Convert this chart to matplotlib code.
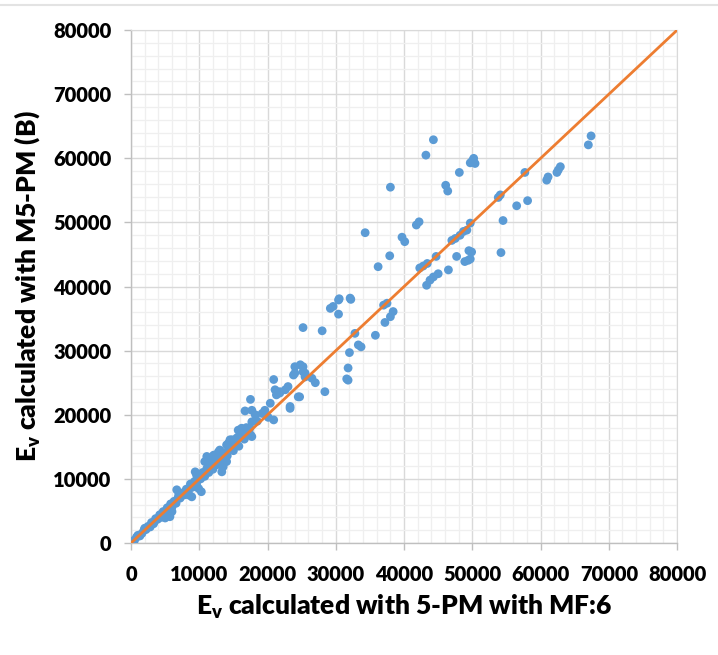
# Ev comparison scatter: 5-PM (MF:6) vs M5-PM (B)

import matplotlib
matplotlib.use("Agg")
import matplotlib.pyplot as plt
from matplotlib.lines import Line2D
from matplotlib.ticker import MultipleLocator

# values in thousands
ev_5pm = [
    0.2, 0.5, 0.8, 1.0, 1.3, 1.6, 1.9, 2.2, 2.5, 2.8, 3.0, 3.3, 3.6, 3.9, 4.2, 4.4,
    4.7, 5.0, 5.3, 5.5, 5.8, 6.0, 6.3, 6.6, 6.9, 7.2, 7.5, 7.8, 8.1, 8.4, 8.7, 9.0,
    9.3, 9.6, 9.9, 10.2, 10.5, 10.8, 11.1, 11.4, 11.7, 12.0, 12.3, 12.6, 13.0, 13.3,
    13.7, 14.1, 14.5, 15.0, 15.4, 15.8, 16.2, 16.6, 17.0, 17.5,
    6.7, 9.4, 9.6, 10.8, 11.3, 12.3, 12.8, 14.3, 14.8, 15.7, 10.3, 9.9, 8.9, 8.4,
    13.5, 14.0, 13.3, 5.7, 5.0, 6.0,
    14.5, 14.0, 15.0, 13.0, 12.1, 11.1,
    20.9, 17.5, 16.7, 17.7, 18.2, 17.7, 16.2, 16.0, 17.4, 17.0, 17.7,
    19.6, 20.1, 20.9, 20.4, 21.3, 21.8, 21.1, 23.0, 23.8, 24.5, 23.3, 24.0, 24.8, 25.5,
    31.8, 28.4, 24.7, 23.3, 27.0, 26.5, 25.2, 25.2, 22.6, 21.8,
    25.2, 28.0, 29.2, 30.4, 30.4, 32.2, 29.6, 37.0, 37.5, 38.4, 38.0, 37.2, 35.8,
    32.8, 33.3, 33.7, 32.0, 31.8, 31.6, 24.0, 25.5,
    30.5, 32.1, 34.3, 36.2, 37.9, 39.7, 40.1, 41.8, 42.2, 38.0, 43.2, 44.3,
    46.1, 46.4, 48.1, 49.7, 50.2, 50.4, 50.0,
    42.3, 42.8, 43.4, 44.7, 47.0, 47.5, 48.2, 48.7, 49.2, 49.7,
    43.3, 43.8, 44.3, 45.0, 46.5, 47.7, 48.9, 49.4, 49.5,
    49.9, 49.7, 54.2, 54.5, 56.5, 58.1, 54.1, 53.8, 57.7,
    60.9, 61.1, 62.4, 62.6, 62.9, 67.0, 67.4,
    18.5, 19.2, 16.9, 15.5, 11.8, 7.0, 3.4, 2.0,
]
ev_m5pm = [
    0.3, 0.4, 0.9, 1.2, 1.1, 1.5, 2.0, 2.1, 2.6, 2.5, 3.2, 3.0, 3.8, 3.7, 4.4, 4.0,
    4.9, 4.6, 5.5, 5.0, 6.1, 5.6, 6.5, 6.2, 7.1, 7.0, 7.8, 7.5, 8.4, 8.0, 9.2, 8.7,
    9.6, 9.2, 10.4, 10.0, 11.0, 10.4, 11.6, 11.0, 12.3, 11.5, 12.9, 12.2, 13.4, 12.8,
    14.1, 13.6, 15.0, 14.4, 15.6, 15.1, 16.8, 16.2, 17.5, 16.9,
    8.3, 11.1, 10.6, 12.7, 12.9, 13.7, 14.2, 15.6, 16.1, 17.6, 8.0, 8.5, 7.2, 7.5,
    11.9, 12.7, 11.1, 4.1, 3.9, 4.9,
    16.1, 15.3, 15.0, 14.5, 13.7, 13.5,
    25.5, 22.4, 20.6, 20.7, 20.0, 18.9, 17.9, 17.1, 17.9, 16.8, 16.6,
    20.7, 19.6, 19.2, 21.8, 23.1, 23.6, 23.9, 24.4, 26.2, 22.8, 21.0, 27.5, 27.8, 26.5,
    25.4, 23.6, 22.8, 21.3, 25.0, 25.7, 27.5, 26.7, 23.9, 23.4,
    33.6, 33.1, 36.6, 37.9, 35.7, 38.0, 36.9, 37.1, 37.4, 36.1, 35.3, 34.4, 32.4,
    32.7, 30.9, 30.6, 29.7, 27.3, 25.6, 26.5, 25.9,
    38.1, 38.2, 48.4, 43.1, 44.8, 47.7, 47.0, 49.6, 50.1, 55.5, 60.5, 62.9,
    55.8, 54.9, 57.8, 59.3, 60.0, 59.2, 59.6,
    42.9, 43.2, 43.6, 44.7, 47.2, 47.5, 48.0, 48.6, 48.8, 49.9,
    40.2, 41.0, 41.5, 42.0, 42.6, 44.7, 43.9, 44.1, 45.6,
    45.4, 44.3, 45.3, 50.3, 52.6, 53.4, 54.3, 53.9, 57.8,
    56.6, 57.1, 57.8, 58.2, 58.7, 62.1, 63.5,
    19.0, 20.2, 18.0, 16.4, 12.4, 7.6, 3.3, 2.3,
]
x_vals = [v * 1000 for v in ev_5pm]
y_vals = [v * 1000 for v in ev_m5pm]
line_ends = [0, 80000]

font = "Lato"
plt.rcParams["font.family"] = [font, "DejaVu Sans"]
plt.rcParams["mathtext.fontset"] = "custom"
plt.rcParams["mathtext.rm"] = font + ":heavy"
plt.rcParams["mathtext.it"] = font + ":heavy"

fig = plt.figure(figsize=(7.18, 6.55), dpi=100)
ax = fig.add_axes([0.1825, 0.171, 0.7605, 0.783])

ax.scatter(x_vals, y_vals, s=40, color="#5B9BD5", edgecolors="none", zorder=3)
ax.plot(line_ends, line_ends, color="#ED7D31", linewidth=2, zorder=4)

ax.set_xlim(0, 80000)
ax.set_ylim(0, 80000)
ax.xaxis.set_major_locator(MultipleLocator(10000))
ax.yaxis.set_major_locator(MultipleLocator(10000))
ax.xaxis.set_minor_locator(MultipleLocator(2000))
ax.yaxis.set_minor_locator(MultipleLocator(2000))
ax.grid(which="major", color="#d9d9d9", linewidth=1.0, zorder=0)
ax.grid(which="minor", color="#efefef", linewidth=0.9, zorder=0)
ax.set_axisbelow(True)

for side in ["top", "right"]:
    ax.spines[side].set_color("#d9d9d9")
for side in ["left", "bottom"]:
    ax.spines[side].set_color("#bfbfbf")
    ax.spines[side].set_linewidth(1.0)

ax.tick_params(which="major", length=5, color="#bfbfbf", width=1.0, pad=11,
               labelsize=14.5)
ax.tick_params(axis="y", which="major", pad=9)
ax.tick_params(which="minor", length=0)
for lbl in ax.get_xticklabels() + ax.get_yticklabels():
    lbl.set_fontweight("heavy")

ax.set_xlabel(r"E$_{\mathrm{v}}$ calculated with 5-PM with MF:6", fontsize=19,
              fontweight="heavy", labelpad=6)
ax.set_ylabel(r"E$_{\mathrm{v}}$ calculated with M5-PM (B)", fontsize=19,
              fontweight="heavy", labelpad=8)

# thin frame line at the top of the screenshot
fig.add_artist(Line2D([0, 1], [0.992, 0.992], color="#e3e3e3", linewidth=1.5))

fig.savefig("out.png", dpi=100)
